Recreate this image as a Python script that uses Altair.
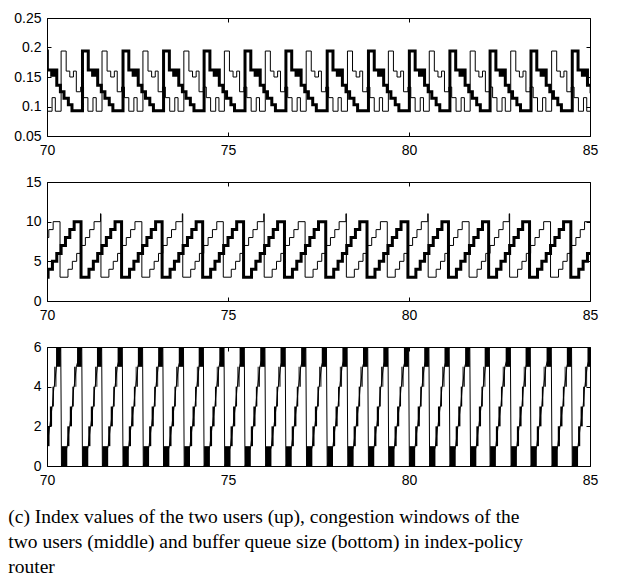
import altair as alt
import pandas as pd

# ---- values -----------------------------------------------------------
# times at which each user's congestion window collapses (thick user / thin user)
thick_drop = [69.81, 70.94, 72.06, 73.18, 74.30, 75.43, 76.56, 77.70, 78.84,
              79.97, 81.09, 82.20, 83.33, 84.47]
thin_drop = [69.23, 70.36, 71.49, 72.62, 73.75, 74.87, 76.00, 77.13, 78.27,
             79.40, 80.53, 81.66, 82.78, 83.91, 85.04]
# peak window reached just before each thin-user drop (brief spike to 11)
thin_peak = [10, 10, 11, 10, 11, 10, 11, 10, 11, 10, 11, 10, 11, 10, 10]

# congestion window staircase within one cycle (offset after drop, window)
cwnd_offsets = [0.00, 0.22, 0.34, 0.46, 0.58, 0.70, 0.82, 0.94]
cwnd_levels = [3, 4, 5, 6, 7, 8, 9, 10]

# index value staircase within one cycle (offset after drop, index)
idx_thick_offsets = [0.04, 0.20, 0.32, 0.40, 0.46, 0.56, 0.66, 0.78, 0.88]
idx_thick_levels = [0.194, 0.162, 0.153, 0.162, 0.136, 0.125, 0.114, 0.103, 0.093]
idx_thin_offsets = [0.03, 0.17, 0.27, 0.37, 0.45, 0.57, 0.65, 0.77, 0.91, 1.00]
idx_thin_levels = [0.194, 0.160, 0.150, 0.160, 0.125, 0.133, 0.115, 0.092, 0.115, 0.092]

# buffer queue: dense oscillation bands (start offset, end offset, lower level)
q_band_start = [-0.11, 0.04, 0.20, 0.27, 0.34, 0.39, 0.425]
q_band_end = [0.02, 0.20, 0.26, 0.33, 0.38, 0.415, 0.45]
q_band_low = [5, 0, 1, 2, 3, 4, 4]
# queue trace between the bands (offset, queue length)
q_line_offsets = [0.02, 0.04, 0.20, 0.26, 0.27, 0.33, 0.34, 0.38, 0.39, 0.45]
q_line_levels = [6, 0, 1, 2, 2, 3, 3, 4, 4, 5]

x_ticks = [70, 75, 80, 85]
caption = ["(c) Index values of the two users (up), congestion windows of the",
           "two users (middle) and buffer queue size (bottom) in index-policy",
           "router"]

# ---- tables -------------------------------------------------------------
def staircase(drops, offsets, levels, peaks=None):
    t, v = [], []
    for k, d in enumerate(drops):
        if peaks is not None and peaks[k] > levels[-1]:
            t.append(d - 0.012)
            v.append(peaks[k])
        for o, l in zip(offsets, levels):
            t.append(round(d + o, 4))
            v.append(l)
    return pd.DataFrame({"t": t, "v": v, "i": range(len(t))})

cw_thick = staircase(thick_drop, cwnd_offsets, cwnd_levels)
cw_thin = staircase(thin_drop, cwnd_offsets, cwnd_levels, thin_peak)
ix_thick = staircase(thick_drop, idx_thick_offsets, idx_thick_levels)
ix_thin = staircase(thin_drop, idx_thin_offsets, idx_thin_levels)

all_drops = sorted(thick_drop + thin_drop)
bands = pd.DataFrame(
    [{"t0": d + a, "t1": d + b, "lo": lo, "hi": lo + 1}
     for d in all_drops for a, b, lo in zip(q_band_start, q_band_end, q_band_low)])
q_line = staircase(all_drops, q_line_offsets, q_line_levels)

# ---- chart --------------------------------------------------------------
W, H = 543, 118
xscale = alt.Scale(domain=[70, 85], nice=False, zero=False)

def axes(ydom, yvals):
    ys = alt.Scale(domain=ydom, nice=False, zero=False)
    common = dict(domain=False, grid=False, tickSize=4, offset=-4, title=None,
                  tickColor="black", labelColor="black", labelFlush=False,
                  labelOverlap=False)
    ax_b = alt.Axis(orient="bottom", values=x_ticks, labelPadding=7, **common)
    ax_l = alt.Axis(orient="left", values=yvals, format="~g", labelPadding=6, **common)
    ax_t = alt.Axis(orient="top", values=x_ticks, labels=False, **common)
    ax_r = alt.Axis(orient="right", values=yvals, labels=False, **common)
    return ax_b, ax_l, ax_t, ax_r, ys

def step_line(df, axx, axy, ys, width):
    return alt.Chart(df).mark_line(interpolate="step-after", color="black",
                                   strokeWidth=width, clip=True,
                                   strokeJoin="miter").encode(
        x=alt.X("t:Q", scale=xscale, axis=axx),
        y=alt.Y("v:Q", scale=ys, axis=axy),
        order="i:Q")

# panel 1: index values
ab, al, at, ar, ys = axes([0.05, 0.25], [0.05, 0.1, 0.15, 0.2, 0.25])
p1 = alt.layer(
    step_line(ix_thin, at, ar, ys, 1),
    step_line(ix_thick, ab, al, ys, 3),
).resolve_axis(x="independent", y="independent").properties(width=W, height=H)

# panel 2: congestion windows
ab, al, at, ar, ys = axes([0, 15], [0, 5, 10, 15])
p2 = alt.layer(
    step_line(cw_thin, at, ar, ys, 1),
    step_line(cw_thick, ab, al, ys, 3),
).resolve_axis(x="independent", y="independent").properties(width=W, height=H + 1)

# panel 3: buffer queue
ab, al, at, ar, ys = axes([0, 6], [0, 2, 4, 6])
rects = alt.Chart(bands).mark_rect(color="black", clip=True).encode(
    x=alt.X("t0:Q", scale=xscale, axis=ab),
    x2="t1:Q",
    y=alt.Y("lo:Q", scale=ys, axis=al),
    y2="hi:Q",
)
qline = alt.Chart(q_line).mark_line(color="black", strokeWidth=1, clip=True).encode(
    x=alt.X("t:Q", scale=xscale, axis=at),
    y=alt.Y("v:Q", scale=ys, axis=ar),
    order="i:Q")
p3 = alt.layer(rects, qline).resolve_axis(
    x="independent", y="independent").properties(width=W, height=H + 1)

chart = alt.VConcatChart(
    vconcat=[p1, p2, p3], spacing=46, bounds="flush",
    title=alt.TitleParams(text=caption, orient="bottom", anchor="start",
                          font="Liberation Serif", fontSize=19.5, fontWeight="normal",
                          lineHeight=25, color="black", offset=20, dx=-5),
    padding={"left": 0, "top": 2, "right": 5, "bottom": 0},
).configure_view(stroke="black", strokeWidth=1).configure_axis(
    labelFont="Liberation Sans", labelFontSize=14)

chart.save("out.html", embed_options={"renderer": "svg", "actions": False})
